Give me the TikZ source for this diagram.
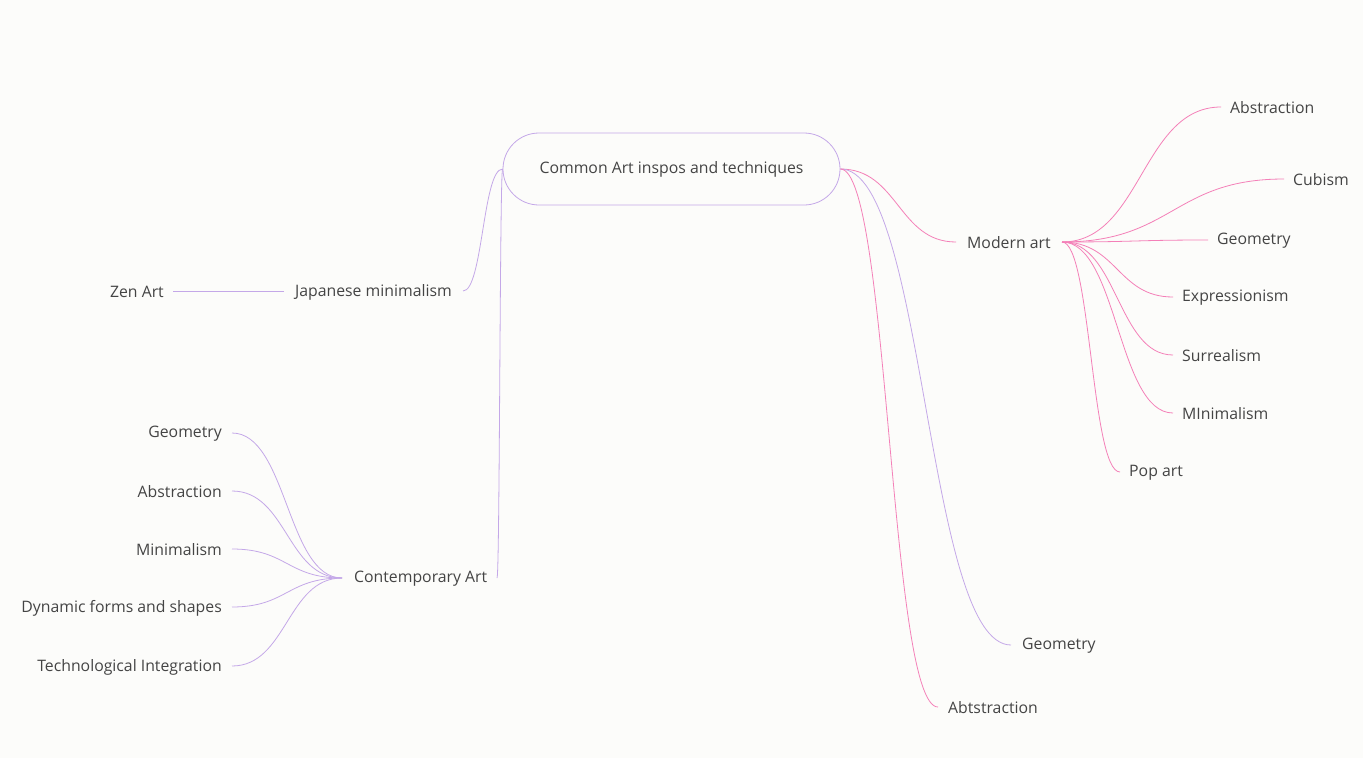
\documentclass[tikz,border=0pt]{standalone}
\usepackage{fontspec}
\setmainfont{Open Sans}
\usetikzlibrary{calc}
\definecolor{bg}{RGB}{252,252,250}
\definecolor{ink}{RGB}{68,68,68}
\definecolor{lav}{RGB}{196,168,232}
\definecolor{pnk}{RGB}{244,128,184}
\tikzset{%
  topic/.style={draw=lav,line width=0.8pt,rounded corners=36pt,minimum width=337pt,
    minimum height=72pt,text=ink,font=\fontsize{15.8}{18}\selectfont},
  leaf/.style={text=ink,inner xsep=0pt,inner ysep=2pt,font=\fontsize{15.8}{18}\selectfont},
  link/.style={line width=0.8pt,draw=#1},
  link/.default=lav
}
% S-shaped branch from one anchor to another
\NewDocumentCommand\branch{mmO{lav}}{%
  \draw[link=#3] let \p1=(#1), \p2=(#2) in
    (\p1) .. controls ({(\x1+\x2)/2},\y1) and ({(\x1+\x2)/2},\y2) .. (\p2);
}
\begin{document}
\begin{tikzpicture}[x=1pt,y=-1pt]
  \useasboundingbox[fill=bg] (0,0) rectangle (1363,758);
  % Central topic
  \node[topic] (root) at (671.5,169) {Common Art inspos and techniques};
  % Left side
  \node[leaf,anchor=east] (jap) at (452,292) {Japanese minimalism};
  \coordinate (japin) at (463,291);
  \coordinate (japout) at (284,291);
  \node[leaf,anchor=east] (zen) at (164,292) {Zen Art};
  \coordinate (zenout) at (173,291);
  \node[leaf,anchor=west] (con) at (354,579) {Contemporary Art};
  \coordinate (conin) at (497,578);
  \coordinate (conhub) at (342,578);
  \node[leaf,anchor=east] (c1) at (222,434) {Geometry};
  \node[leaf,anchor=east] (c2) at (222,492) {Abstraction};
  \node[leaf,anchor=east] (c3) at (222,550) {Minimalism};
  \node[leaf,anchor=east] (c4) at (222,608) {Dynamic forms and shapes};
  \node[leaf,anchor=east] (c5) at (222,667) {Technological Integration};
  \foreach \i in {1,...,5}{\coordinate (c\i out) at ($(c\i.east)+(10,-1)$);}
  % Right side
  \node[leaf,anchor=west] (mod) at (967,243) {Modern art};
  \coordinate (modin) at (956,242);
  \coordinate (modhub) at (1062,242);
  \node[leaf,anchor=west] (m1) at (1230,108) {Abstraction};
  \node[leaf,anchor=west] (m2) at (1293,180) {Cubism};
  \node[leaf,anchor=west] (m3) at (1217,241) {Geometry};
  \node[leaf,anchor=west] (m4) at (1182,298) {Expressionism};
  \node[leaf,anchor=west] (m5) at (1182,356) {Surrealism};
  \node[leaf,anchor=west] (m6) at (1182,414) {MInimalism};
  \node[leaf,anchor=west] (m7) at (1129,473) {Pop art};
  \foreach \i in {1,...,7}{\coordinate (m\i in) at ($(m\i.west)+(-9,-1)$);}
  \node[leaf,anchor=west] (geo) at (1022,646) {Geometry};
  \coordinate (geoin) at (1011,645);
  \node[leaf,anchor=west] (abt) at (948,708) {Abtstraction};
  \coordinate (abtin) at (938,707);
  % Branches
  \branch{root.west}{japin}
  \draw[link] (japout) -- (zenout);
  \branch{root.west}{conin}
  \foreach \i in {1,...,5}{\branch{conhub}{c\i out}}
  \branch{root.east}{modin}[pnk]
  \foreach \i in {1,...,7}{\branch{modhub}{m\i in}[pnk]}
  \branch{root.east}{geoin}
  \branch{root.east}{abtin}[pnk]
\end{tikzpicture}
\end{document}
